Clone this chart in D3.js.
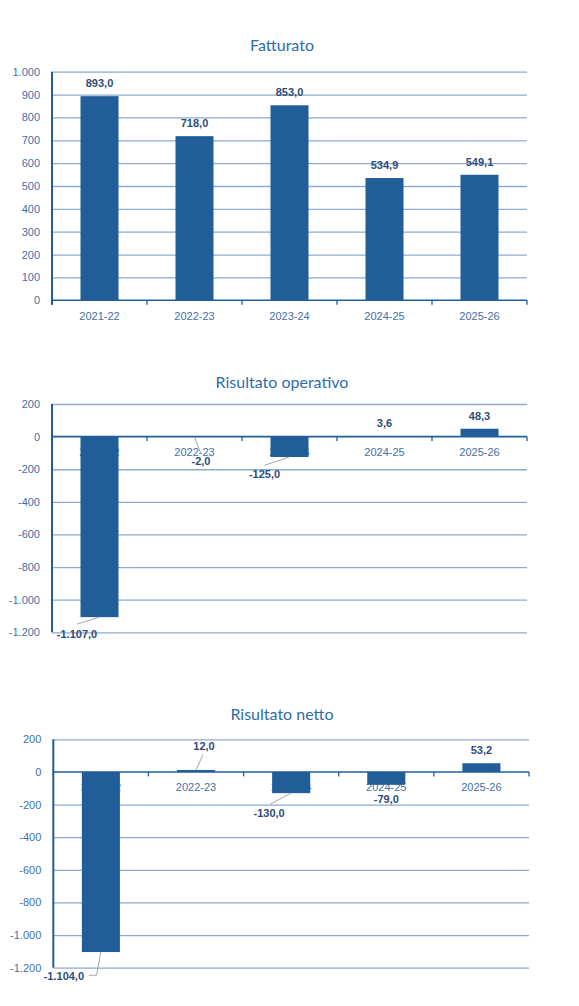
<!DOCTYPE html>
<html>
<head>
<meta charset="utf-8">
<script src="https://cdn.jsdelivr.net/npm/d3@7"></script>
<style>
  body { margin: 0; background: #fff; }
  svg { display: block; }
  text { font-family: "Liberation Sans", Arial, sans-serif; }
</style>
</head>
<body>
<svg id="charts" width="579" height="1006"></svg>
<script>
// dati
var categories = ["2021-22", "2022-23", "2023-24", "2024-25", "2025-26"];
var fatturato = [893.0, 718.0, 853.0, 534.9, 549.1];
var risultatoOperativo = [-1107.0, -2.0, -125.0, 3.6, 48.3];
var risultatoNetto = [-1104.0, 12.0, -130.0, -79.0, 53.2];
var ticksFatturato = [0, 100, 200, 300, 400, 500, 600, 700, 800, 900, 1000];
var ticksRisultati = [200, 0, -200, -400, -600, -800, -1000, -1200];

var it = d3.formatLocale({ decimal: ",", thousands: ".", grouping: [3], currency: ["€", ""], minus: "-" });
var fmtTick = it.format(",.0f");
var fmtVal = it.format(",.1f");

var BAR = "#215e99", GRID = "#8eaacf", AXIS = "#215e99";
var TICKTXT = "#4270a8", VALTXT = "#2d4c7a", TITLE = "#2f6bae", LEADER = "#a6a6a6";

// posizione di ogni grafico ed eventuali etichette spostate a mano (con linea guida)
var charts = [
  { title: "Fatturato", values: fatturato, ticks: ticksFatturato, domain: [0, 1000],
    titleY: 44, top: 71.7, bottom: 300.3, left: 52, right: 527, labels: {} },
  { title: "Risultato operativo", values: risultatoOperativo, ticks: ticksRisultati, domain: [-1200, 200],
    titleY: 381, top: 404, bottom: 632.3, left: 52, right: 527,
    labels: {
      0: { dx: -22.5, dy: 3, leader: [[0, -10]] },
      1: { dx: 6.5, dy: 10, leader: [[0, -7]] },
      2: { dx: -25, dy: 3.3, leader: [[0, -9]] }
    } },
  { title: "Risultato netto", values: risultatoNetto, ticks: ticksRisultati, domain: [-1200, 200],
    titleY: 713, top: 739.3, bottom: 967.7, left: 53.3, right: 529,
    labels: {
      0: { dx: -37, dy: 10.4, leader: [[32.7, -1.2], [25, -1.2]] },
      1: { dx: 8, dy: -11.3, leader: [[-1, 9]] },
      2: { dx: -22, dy: 6, leader: [[1, -9]] }
    } }
];

var svg = d3.select("#charts");

charts.forEach(function (c) {
  var g = svg.append("g").attr("class", "chart");

  var x = d3.scaleBand().domain(categories).range([c.left, c.right])
    .paddingInner(0.6).paddingOuter(0.3);
  var y = d3.scaleLinear().domain(c.domain).range([c.bottom, c.top]);
  var y0 = y(0);

  g.append("text")
    .attr("x", 282).attr("y", c.titleY)
    .attr("text-anchor", "middle").attr("dominant-baseline", "central")
    .style("font-family", "Lato, 'Open Sans', sans-serif")
    .style("font-size", "16px").attr("fill", TITLE)
    .text(c.title);

  // griglia
  g.append("g")
    .attr("transform", "translate(" + c.left + ",0)")
    .call(d3.axisLeft(y).tickValues(c.ticks.filter(function (t) { return t !== 0; }))
      .tickSize(-(c.right - c.left)).tickFormat(""))
    .call(function (s) { s.select(".domain").remove(); })
    .selectAll("line").attr("stroke", GRID).attr("stroke-width", 1.3);

  // etichette asse y
  g.append("g")
    .attr("transform", "translate(" + (c.left - 12) + ",0)")
    .call(d3.axisLeft(y).tickValues(c.ticks).tickSize(0).tickPadding(0).tickFormat(fmtTick))
    .call(function (s) { s.select(".domain").remove(); })
    .selectAll("text")
    .attr("fill", TICKTXT).style("font-size", "11px")
    .style("font-family", "'Liberation Sans', Arial, sans-serif");

  // etichette categorie (sotto le barre, che le coprono)
  g.selectAll(".cat").data(categories).enter().append("text")
    .attr("class", "cat")
    .attr("x", function (d) { return x(d) + x.bandwidth() / 2; })
    .attr("y", y0 + 15.3)
    .attr("text-anchor", "middle").attr("dominant-baseline", "central")
    .attr("fill", TICKTXT).style("font-size", "11px")
    .text(function (d) { return d; });

  // barre
  g.selectAll(".bar").data(c.values).enter().append("rect")
    .attr("class", "bar")
    .attr("x", function (d, i) { return x(categories[i]); })
    .attr("width", x.bandwidth())
    .attr("y", function (d) { return Math.min(y(d), y0); })
    .attr("height", function (d) { return Math.abs(y(d) - y0); })
    .attr("fill", BAR);

  // asse x con tacche ai confini delle categorie
  g.append("line")
    .attr("x1", c.left).attr("x2", c.right).attr("y1", y0).attr("y2", y0)
    .attr("stroke", AXIS).attr("stroke-width", 1.6);
  g.selectAll(".xtick").data(d3.range(categories.length + 1)).enter().append("line")
    .attr("class", "xtick")
    .attr("x1", function (i) { return c.left + i * x.step(); })
    .attr("x2", function (i) { return c.left + i * x.step(); })
    .attr("y1", y0).attr("y2", y0 + 4.5)
    .attr("stroke", AXIS).attr("stroke-width", 1.3);

  // asse y
  g.append("line")
    .attr("x1", c.left).attr("x2", c.left)
    .attr("y1", c.top).attr("y2", Math.max(c.bottom, y0 + 4.5))
    .attr("stroke", AXIS).attr("stroke-width", 2);

  // etichette valori
  c.values.forEach(function (v, i) {
    var cx = x(categories[i]) + x.bandwidth() / 2;
    var ly = v >= 0 ? y(v) - 13 : y(v) + 14;
    var o = c.labels[i] || { dx: 0, dy: 0 };
    var lx = cx + o.dx;
    ly += o.dy;
    if (o.leader) {
      var pts = [[cx, y(v)]].concat(o.leader.map(function (p) { return [lx + p[0], ly + p[1]]; }));
      g.append("path")
        .attr("d", d3.line()(pts))
        .attr("fill", "none").attr("stroke", LEADER).attr("stroke-width", 1);
    }
    g.append("text")
      .attr("x", lx).attr("y", ly)
      .attr("text-anchor", "middle").attr("dominant-baseline", "central")
      .attr("fill", VALTXT).style("font-size", "11px").style("font-weight", "bold")
      .text(fmtVal(v));
  });
});
</script>
</body>
</html>
